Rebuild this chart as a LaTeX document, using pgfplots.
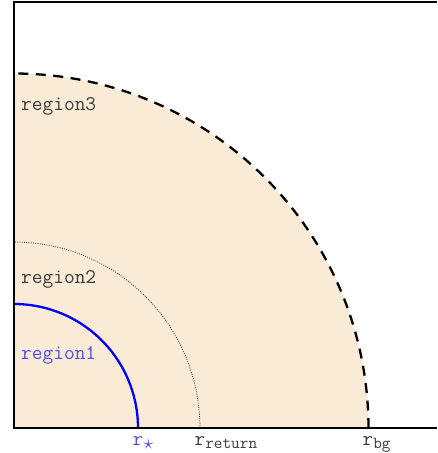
\documentclass[border=0pt]{standalone}
\usepackage{pgfplots}
\pgfplotsset{compat=1.18}
\definecolor{fillc}{RGB}{250,235,215}
\definecolor{txtc}{RGB}{60,60,60}
\definecolor{bluet}{RGB}{80,80,230}
\begin{document}
\begin{tikzpicture}
\begin{axis}[
  at={(0,0)}, anchor=south west,
  width=423pt, height=426pt, scale only axis,
  xmin=0, xmax=423, ymin=0, ymax=426,
  axis line style={draw=none},
  clip=false,
  ytick=\empty,
  xtick={124,186,354},
  xticklabels={%
    {\textcolor{bluet}{\texttt{r}\rlap{\raisebox{-4pt}{\fontsize{22}{22}\selectfont$\star$}}}},
    {\texttt{r}\rlap{\raisebox{-3.5pt}{\fontsize{16.8}{16.8}\selectfont\texttt{return}}}},
    {\texttt{r}\rlap{\raisebox{-3.5pt}{\fontsize{16.8}{16.8}\selectfont\texttt{bg}}}}},
  xticklabel style={anchor=base, yshift=-17pt, font=\fontsize{20.5}{20.5}\selectfont\ttfamily, text=txtc, inner sep=0pt},
  major tick length=0pt,
]
\addplot[fill=fillc, draw=none, domain=0:90, samples=120] ({354.5*cos(x)},{354.5*sin(x)}) \closedcycle;
\addplot[black, line width=0.75pt, dash pattern=on 0.75pt off 1.5pt, domain=0:90, samples=120] ({186*cos(x)},{186*sin(x)});
\addplot[blue, line width=2.3pt, domain=0:90, samples=120] ({124*cos(x)},{124*sin(x)});
\addplot[black, line width=2.3pt, dash pattern=on 10pt off 7.5pt, domain=0:90, samples=160] ({354.5*cos(x)},{354.5*sin(x)});
\draw[black, line width=1.4pt] (rel axis cs:1,1) -- (rel axis cs:0,1) -- (rel axis cs:0,0) -- (rel axis cs:1,0);
\node[anchor=base west, inner sep=0pt, text=txtc, font=\fontsize{20.8}{20.8}\selectfont\ttfamily] at (axis cs:7,317) {region3};
\node[anchor=base west, inner sep=0pt, text=txtc, font=\fontsize{20.8}{20.8}\selectfont\ttfamily] at (axis cs:7,144) {region2};
\node[anchor=base west, inner sep=0pt, text=bluet, font=\fontsize{20.8}{20.8}\selectfont\ttfamily] at (axis cs:7,69) {region1};
\end{axis}
\pgfresetboundingbox
\useasboundingbox (-14pt,-25pt) rectangle (423pt,428pt);
\end{tikzpicture}
\end{document}
